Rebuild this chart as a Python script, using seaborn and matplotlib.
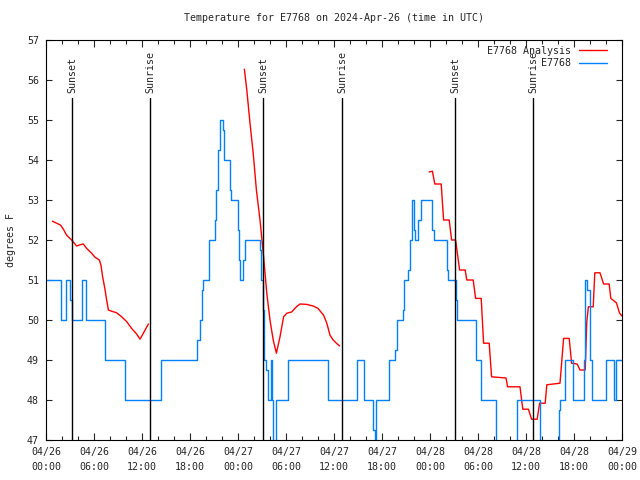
import pandas as pd
import seaborn as sns
import matplotlib
matplotlib.use("Agg")
import matplotlib.pyplot as plt
import matplotlib.dates as mdates

# hours after 2024-04-26 00:00 UTC
start = pd.Timestamp("2024-04-26 00:00")

# station observations (step values)
obs_hours = [0.0, 1.9, 2.5, 3.0, 3.25, 4.5, 5.0, 7.4, 9.9, 14.4,
             18.9, 19.25, 19.46, 19.6, 20.4, 21.16, 21.3, 21.54, 21.7, 21.8,
             22.1, 22.3, 22.96, 23.1, 24.0, 24.1, 24.2, 24.3, 24.6, 24.9,
             26.7, 26.9, 27.1, 27.2, 27.25, 27.5, 27.8, 28.1, 28.3, 28.4,
             28.8, 30.3, 35.3, 38.9, 39.7, 40.9, 41.1, 41.3, 42.9, 43.6,
             43.9, 44.6, 44.8, 45.3, 45.5, 45.8, 46.0, 46.1, 46.5, 46.9,
             48.3, 48.5, 50.1, 50.2, 51.2, 51.4, 53.7, 54.4, 56.2, 58.9,
             61.8, 64.1, 64.25, 64.9, 65.9, 67.2, 67.4, 67.6, 68.0, 68.2,
             70.0, 71.0, 71.3, 72.0]
obs_temp = [51, 50, 51, 50.5, 50, 51, 50, 49, 48, 49,
            49.5, 50, 50.75, 51, 52, 52.5, 53.25, 54.25, 54.75, 55,
            54.75, 54, 53.25, 53, 52.25, 51.5, 51.25, 51, 51.5, 52,
            51.75, 51, 50.25, 49.75, 49, 48.75, 48, 49, 48, 46.5,
            48, 49, 48, 49, 48, 47.25, 47, 48, 49, 49.25,
            50, 50.25, 51, 51.25, 52, 53, 52.25, 52, 52.5, 53,
            52.25, 52, 51.25, 51, 50.5, 50, 49, 48, 46.5, 48,
            46.5, 47.75, 48, 49, 48, 49, 51, 50.75, 49, 48,
            49, 48, 49, 49]

# analysis, three pieces
ana1_hours = [0.8, 1.33, 1.83, 2.17, 2.58, 3.2, 3.83, 4.25, 4.67, 5.08,
              5.7, 6.12, 6.67, 6.87, 7.08, 7.37, 7.58, 7.8, 8.2, 8.83,
              9.46, 10.08, 10.7, 11.33, 11.75, 12.17, 12.8]
ana1_temp = [52.47, 52.42, 52.37, 52.27, 52.12, 52.0, 51.85, 51.88, 51.9, 51.79,
             51.67, 51.57, 51.5, 51.37, 51.08, 50.77, 50.5, 50.25, 50.22, 50.18,
             50.08, 49.96, 49.79, 49.65, 49.52, 49.67, 49.9]
ana2_hours = [24.8, 25.1, 25.5, 25.9, 26.3, 26.75, 27.2, 27.6, 28.0, 28.4,
              28.8, 29.25, 29.7, 30.1, 30.7, 31.3, 31.75, 32.6, 33.4, 34.0,
              34.7, 35.1, 35.5, 35.9, 36.3, 36.7]
ana2_temp = [56.27, 55.75, 54.92, 54.17, 53.25, 52.5, 51.58, 50.67, 50.0, 49.5,
             49.17, 49.58, 50.08, 50.17, 50.2, 50.33, 50.4, 50.39, 50.35, 50.29,
             50.12, 49.92, 49.62, 49.5, 49.42, 49.35]
ana3_hours = [47.9, 48.3, 48.6, 49.4, 49.7, 50.4, 50.7, 51.2, 51.7, 52.4,
              52.6, 53.4, 53.7, 54.4, 54.7, 55.4, 55.7, 57.5, 57.7, 59.25,
              59.6, 60.3, 60.7, 61.4, 61.7, 62.4, 62.6, 64.25, 64.7, 65.4,
              65.7, 66.4, 66.75, 67.4, 67.6, 67.8, 68.4, 68.6, 69.25, 69.7,
              70.4, 70.6, 71.3, 71.7, 72.0]
ana3_temp = [53.7, 53.72, 53.4, 53.4, 52.5, 52.5, 52.0, 52.0, 51.25, 51.25,
             51.0, 51.0, 50.54, 50.54, 49.42, 49.42, 48.58, 48.55, 48.33, 48.33,
             47.77, 47.77, 47.52, 47.52, 47.92, 47.92, 48.38, 48.42, 49.54, 49.54,
             48.92, 48.9, 48.75, 48.75, 49.96, 50.33, 50.33, 51.18, 51.18, 50.9,
             50.9, 50.54, 50.43, 50.17, 50.1]

sunset_hours = [3.28, 27.17, 51.17]
sunrise_hours = [13.04, 37.04, 60.92]

obs = pd.DataFrame({"time": start + pd.to_timedelta(obs_hours, unit="h"),
                    "temp": obs_temp})
ana = pd.concat([
    pd.DataFrame({"time": start + pd.to_timedelta(h, unit="h"), "temp": v, "seg": i})
    for i, (h, v) in enumerate([(ana1_hours, ana1_temp),
                                (ana2_hours, ana2_temp),
                                (ana3_hours, ana3_temp)])
], ignore_index=True)

sns.set_style("ticks")
plt.rcParams["font.family"] = ["DejaVu Sans Mono"]
fs = 7.2

fig = plt.figure(figsize=(6.4, 4.8), dpi=100)
ax = fig.add_axes([46 / 640, 40 / 480, 576 / 640, 400 / 480])

sns.lineplot(data=ana, x="time", y="temp", units="seg", estimator=None,
             color="#ff0000", linewidth=1.0, ax=ax, label="E7768 Analysis")
sns.lineplot(data=obs, x="time", y="temp", color="#0080ff", linewidth=1.0,
             drawstyle="steps-post", ax=ax, label="E7768")

for name, hrs in [("Sunset", sunset_hours), ("Sunrise", sunrise_hours)]:
    for h in hrs:
        t = start + pd.Timedelta(hours=h)
        ax.plot([t, t], [47, 55.55], color="black", linewidth=1.0)
        ax.text(t, 55.68, name, rotation=90, ha="center", va="bottom",
                fontsize=fs)

ax.set_xlim(start, start + pd.Timedelta(hours=72))
ax.set_ylim(47, 57)
ax.set_yticks(range(47, 58))
ax.xaxis.set_major_locator(mdates.HourLocator(byhour=[0, 6, 12, 18]))
ax.xaxis.set_minor_locator(mdates.HourLocator(interval=2))
ax.xaxis.set_major_formatter(mdates.DateFormatter("%m/%d\n%H:%M"))

ax.tick_params(axis="both", which="both", direction="in", top=True, right=True,
               labelsize=fs, width=0.8)
ax.tick_params(axis="x", which="major", length=5, pad=5)
ax.tick_params(axis="x", which="minor", length=3)
ax.tick_params(axis="y", which="major", length=4, pad=5)
for s in ax.spines.values():
    s.set_linewidth(0.8)
    s.set_color("black")

ax.set_xlabel("")
ax.set_ylabel("degrees F", fontsize=fs, labelpad=8)
ax.set_title("Temperature for E7768 on 2024-Apr-26 (time in UTC)", fontsize=fs, pad=14)

# one legend entry per series
handles, labels = ax.get_legend_handles_labels()
seen = {}
for hd, lb in zip(handles, labels):
    seen.setdefault(lb, hd)
ax.legend(list(seen.values()), list(seen.keys()), loc="upper right",
          frameon=False, markerfirst=False, fontsize=fs,
          handlelength=2.8, handletextpad=0.8, labelspacing=0.25,
          borderaxespad=0.2, bbox_to_anchor=(0.985, 1.0))

fig.canvas.draw()
for lab in ax.get_xticklabels():
    lab.set_linespacing(1.6)

fig.savefig("out.png", dpi=100)
